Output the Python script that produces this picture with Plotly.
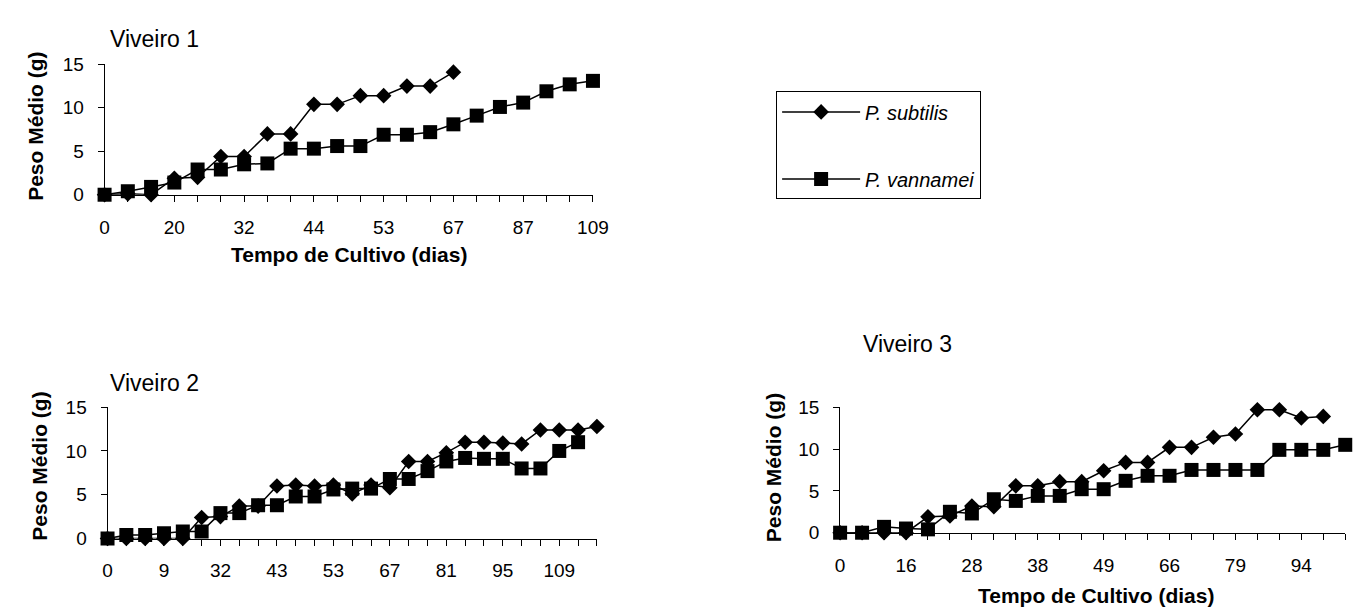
import plotly.graph_objects as go

W, H = 1369, 612

# ---------------- data ----------------
# Viveiro 1
v1_days = ["0", "7", "14", "20", "24", "28", "32", "36", "40", "44", "47", "50",
           "53", "58", "62", "67", "73", "80", "87", "94", "101", "109"]
v1_ticks = ["0", "20", "32", "44", "53", "67", "87", "109"]
v1_subtilis = [0, 0.1, 0, 1.9, 2.0, 4.4, 4.4, 7.0, 7.0, 10.4, 10.4, 11.4,
               11.4, 12.5, 12.5, 14.1]
v1_vannamei = [0, 0.4, 0.9, 1.4, 2.9, 2.9, 3.5, 3.6, 5.3, 5.3, 5.6, 5.6,
               6.9, 6.9, 7.2, 8.1, 9.1, 10.1, 10.6, 11.9, 12.7, 13.1]

# Viveiro 2
v2_days = ["0", "3", "6", "9", "16", "24", "32", "36", "39", "43", "46", "50",
           "53", "58", "62", "67", "72", "76", "81", "86", "90", "95", "100",
           "104", "109", "113", "118"]
v2_ticks = ["0", "9", "32", "43", "53", "67", "81", "95", "109"]
v2_subtilis = [0, 0, 0, 0, 0, 2.4, 2.5, 3.7, 3.7, 6.0, 6.1, 6.0, 6.1, 5.1,
               6.1, 5.8, 8.8, 8.8, 9.8, 11.0, 11.0, 10.9, 10.8, 12.4, 12.4,
               12.4, 12.8]
v2_vannamei = [0, 0.4, 0.4, 0.6, 0.8, 0.8, 2.9, 2.9, 3.8, 3.8, 4.8, 4.8, 5.6,
               5.7, 5.7, 6.8, 6.8, 7.7, 8.8, 9.2, 9.1, 9.1, 8.0, 8.0, 10.0, 11.0]

# Viveiro 3
v3_days = ["0", "5", "10", "16", "20", "24", "28", "31", "35", "38", "42", "45",
           "49", "55", "60", "66", "70", "75", "79", "84", "89", "94", "99", "104"]
v3_ticks = ["0", "16", "28", "38", "49", "66", "79", "94"]
v3_subtilis = [0, 0, 0, 0, 1.9, 2.0, 3.2, 3.1, 5.6, 5.6, 6.1, 6.1, 7.4, 8.4,
               8.4, 10.2, 10.2, 11.4, 11.8, 14.7, 14.7, 13.7, 13.9]
v3_vannamei = [0, 0, 0.7, 0.5, 0.4, 2.5, 2.3, 4.0, 3.8, 4.4, 4.4, 5.2, 5.2,
               6.2, 6.8, 6.8, 7.5, 7.5, 7.5, 7.5, 9.9, 9.9, 9.9, 10.5]

series_names = ["<i>P. subtilis</i>", "<i>P. vannamei</i>"]
y_ticks = [0, 5, 10, 15]

FONT = "Liberation Sans, Arial, sans-serif"


def px_x(p):
    return p / W


def px_y(p):
    return 1 - p / H


panels = [
    # days, ticks, subtilis, vannamei, x-domain px, y-domain px (top, bottom)
    (v1_days, v1_ticks, v1_subtilis, v1_vannamei, (93, 589), (48, 183)),
    (v2_days, v2_ticks, v2_subtilis, v2_vannamei, (96, 593), (403, 539)),
    (v3_days, v3_ticks, v3_subtilis, v3_vannamei, (840, 1353), (403, 533)),
]

fig = go.Figure()
layout = {}
for i, (days, ticks, sub, van, xd, yd) in enumerate(panels):
    n = "" if i == 0 else str(i + 1)
    xa, ya = "x" + n, "y" + n
    fig.add_trace(go.Scatter(
        x=days[:len(sub)], y=sub, xaxis=xa, yaxis=ya, mode="lines+markers",
        name=series_names[0], legendgroup="s", showlegend=(i == 0),
        line=dict(color="black", width=1.5),
        marker=dict(symbol="diamond", size=12, color="black"),
        cliponaxis=False))
    fig.add_trace(go.Scatter(
        x=days[:len(van)], y=van, xaxis=xa, yaxis=ya, mode="lines+markers",
        name=series_names[1], legendgroup="v", showlegend=(i == 0),
        line=dict(color="black", width=1.5),
        marker=dict(symbol="square", size=14, color="black"),
        cliponaxis=False))
    layout["xaxis" + n] = dict(
        domain=[px_x(xd[0]), px_x(xd[1])], anchor=ya, type="category",
        categoryorder="array", categoryarray=days,
        range=[0, len(days) - 1], showgrid=False, zeroline=False,
        showline=True, linecolor="black", linewidth=1,
        ticks="outside", ticklen=6, tickcolor="black", tickwidth=1,
        tickmode="array", tickvals=days,
        ticktext=[d if d in ticks else "" for d in days],
        tickfont=dict(size=19, color="black", family=FONT),
        ticklabelstandoff=9, fixedrange=True)
    layout["yaxis" + n] = dict(
        domain=[px_y(yd[1]), px_y(yd[0])], anchor=xa, range=[0, 15],
        showgrid=False, zeroline=False, showline=True, linecolor="black",
        linewidth=1, ticks="outside", ticklen=6, tickcolor="black",
        tickwidth=1, tickmode="array", tickvals=y_ticks,
        tickfont=dict(size=19, color="black", family=FONT),
        ticklabelstandoff=10, fixedrange=True)

annotations = [
    dict(text="Viveiro 1", x=px_x(96), y=px_y(22), xanchor="left", yanchor="middle",
         font=dict(size=23)),
    dict(text="Viveiro 2", x=px_x(96), y=px_y(378), xanchor="left", yanchor="middle",
         font=dict(size=23)),
    dict(text="Viveiro 3", x=px_x(908), y=px_y(338), xanchor="center", yanchor="middle",
         font=dict(size=23)),
    dict(text="<b>Peso Médio (g)</b>", x=px_x(22), y=px_y(112), textangle=-90,
         xanchor="center", yanchor="middle", font=dict(size=21)),
    dict(text="<b>Peso Médio (g)</b>", x=px_x(26), y=px_y(464), textangle=-90,
         xanchor="center", yanchor="middle", font=dict(size=21)),
    dict(text="<b>Peso Médio (g)</b>", x=px_x(772), y=px_y(466), textangle=-90,
         xanchor="center", yanchor="middle", font=dict(size=21)),
    dict(text="<b>Tempo de Cultivo (dias)</b>", x=px_x(341), y=px_y(245),
         xanchor="center", yanchor="middle", font=dict(size=21)),
    dict(text="<b>Tempo de Cultivo (dias)</b>", x=px_x(1100), y=px_y(598),
         xanchor="center", yanchor="middle", font=dict(size=21)),
]
for a in annotations:
    a.update(xref="paper", yref="paper", showarrow=False)

fig.update_layout(
    width=W, height=H, margin=dict(l=0, r=0, t=0, b=0),
    paper_bgcolor="white", plot_bgcolor="white",
    font=dict(family=FONT, color="black", size=19),
    annotations=annotations,
    legend=dict(x=px_x(775), y=px_y(76), xanchor="left", yanchor="top",
                bordercolor="black", borderwidth=1, bgcolor="white",
                font=dict(size=20, color="black", family=FONT),
                tracegroupgap=38, itemwidth=78),
    **layout,
)

fig.write_html("out.html")
